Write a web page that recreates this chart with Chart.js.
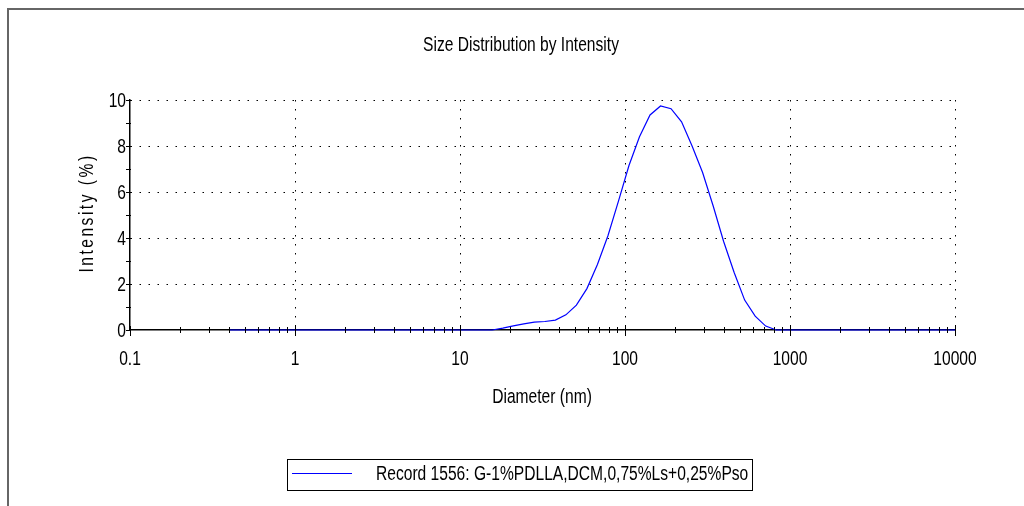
<!DOCTYPE html>
<html>
<head>
<meta charset="utf-8">
<title>Size Distribution by Intensity</title>
<script src="https://cdn.jsdelivr.net/npm/chart.js@4.4.1/dist/chart.umd.min.js"></script>
<style>
    html, body { margin: 0; padding: 0; background: #fff; }
    #wrap { width: 1024px; height: 506px; }
</style>
</head>
<body>
<div id="wrap"><canvas id="sizeChart" width="1024" height="506"></canvas></div>
<script>
// size classes (nm) and intensity (%)
const SIZES_NM = [
    0.4, 0.4632, 0.5365, 0.6213, 0.7195, 0.8332, 0.9649, 1.117, 1.294, 1.499,
    1.736, 2.01, 2.328, 2.696, 3.122, 3.615, 4.187, 4.849, 5.615, 6.503,
    7.531, 8.721, 10.1, 11.7, 13.54, 15.69, 18.17, 21.04, 24.36, 28.21,
    32.67, 37.84, 43.82, 50.75, 58.77, 68.06, 78.82, 91.28, 105.7, 122.4,
    141.8, 164.2, 190.1, 220.2, 255.0, 295.3, 342.0, 396.1, 458.7, 531.2,
    615.1, 712.4, 825.0, 955.4, 1106, 1281, 1484, 1718, 1990, 2305,
    2669, 3091, 3580, 4145, 4801, 5560, 6439, 7456, 8635, 10000
];
const INTENSITY = [
    0, 0, 0, 0, 0, 0, 0, 0, 0, 0,
    0, 0, 0, 0, 0, 0, 0, 0, 0, 0,
    0, 0, 0, 0, 0, 0, 0.08, 0.18, 0.27, 0.34,
    0.37, 0.43, 0.66, 1.08, 1.8, 2.85, 4.1, 5.6, 7.15, 8.4,
    9.35, 9.74, 9.62, 9.05, 8.0, 6.85, 5.4, 3.85, 2.5, 1.3,
    0.6, 0.17, 0, 0, 0, 0, 0, 0, 0, 0,
    0, 0, 0, 0, 0, 0, 0, 0, 0, 0
];
const X_TICKS = [0.1, 1, 10, 100, 1000, 10000];
const Y_TICKS = [0, 2, 4, 6, 8, 10];
const Y_MINOR = [1, 3, 5, 7, 9];
const RECORD_LABEL = 'Record 1556: G-1%PDLLA,DCM,0,75%Ls+0,25%Pso';
const CHART_TITLE = 'Size Distribution by Intensity';
const X_TITLE = 'Diameter (nm)';
const Y_TITLE = 'Intensity (%)';

const LINE_COLOR = '#0000ff';
const FONT = '15.6px "Liberation Sans", Arial, sans-serif';
const STRETCH = 1.3; // the original text is drawn taller than it is wide

// text with the tall look of the original
function tallText(ctx, text, x, y, align, rotate) {
    ctx.save();
    ctx.translate(x, y);
    if (rotate) ctx.rotate(-Math.PI / 2);
    ctx.scale(1, STRETCH);
    ctx.font = FONT;
    ctx.fillStyle = '#000';
    ctx.textAlign = align;
    ctx.textBaseline = 'middle';
    if (rotate) ctx.letterSpacing = '2.5px';
    ctx.fillText(text, 0, 0);
    ctx.restore();
}

// frame, tick labels, titles, legend box and the small axis ticks
const decorPlugin = {
    id: 'decor',
    beforeDraw(chart) {
        const ctx = chart.ctx;
        ctx.save();
        ctx.strokeStyle = '#666';
        ctx.lineWidth = 2;
        ctx.beginPath();
        ctx.moveTo(8, 506);
        ctx.lineTo(8, 9);
        ctx.lineTo(1024, 9);
        ctx.stroke();
        ctx.restore();
    },
    afterDraw(chart) {
        const ctx = chart.ctx;
        const xs = chart.scales.x;
        const ys = chart.scales.y;
        const area = chart.chartArea;

        ctx.save();
        ctx.strokeStyle = '#000';
        ctx.lineWidth = 1;

        // y ticks (every unit)
        Y_TICKS.concat(Y_MINOR).forEach(v => {
            const py = Math.round(ys.getPixelForValue(v)) + 0.5;
            ctx.beginPath();
            ctx.moveTo(area.left - 4, py);
            ctx.lineTo(area.left + 1, py);
            ctx.stroke();
        });

        // x ticks: decades long, 2..9 short
        for (let d = -1; d < 4; d++) {
            for (let m = 1; m <= 9; m++) {
                const v = m * Math.pow(10, d);
                const px = Math.round(xs.getPixelForValue(v)) + 0.5;
                const major = m === 1;
                ctx.beginPath();
                ctx.moveTo(px, area.bottom - (major ? 4 : 3));
                ctx.lineTo(px, area.bottom + (major ? 6 : 3));
                ctx.stroke();
            }
        }
        const pEnd = Math.round(xs.getPixelForValue(10000)) + 0.5;
        ctx.beginPath();
        ctx.moveTo(pEnd, area.bottom - 4);
        ctx.lineTo(pEnd, area.bottom + 6);
        ctx.stroke();
        ctx.restore();

        // tick labels
        X_TICKS.forEach(v => tallText(ctx, String(v), xs.getPixelForValue(v), 359, 'center'));
        Y_TICKS.forEach(v => tallText(ctx, String(v), 126, ys.getPixelForValue(v) + 1, 'right'));

        // titles
        tallText(ctx, CHART_TITLE, 521, 45, 'center');
        tallText(ctx, X_TITLE, 542, 397, 'center');
        tallText(ctx, Y_TITLE, 87, 213, 'center', true);

        // legend
        const ds = chart.data.datasets[0];
        ctx.save();
        ctx.strokeStyle = '#000';
        ctx.lineWidth = 1;
        ctx.strokeRect(287.5, 459.5, 465, 31);
        ctx.strokeStyle = LINE_COLOR;
        ctx.lineWidth = 1;
        ctx.beginPath();
        ctx.moveTo(292, 473.5);
        ctx.lineTo(352, 473.5);
        ctx.stroke();
        ctx.restore();
        tallText(ctx, ds.label, 376, 474, 'left');
    }
};

const ctx = document.getElementById('sizeChart');
new Chart(ctx, {
    type: 'line',
    data: {
        datasets: [{
            label: RECORD_LABEL,
            data: SIZES_NM.map((s, i) => ({ x: s, y: INTENSITY[i] })),
            borderColor: LINE_COLOR,
            borderWidth: 1.2,
            pointRadius: 0,
            tension: 0,
            fill: false,
            clip: false
        }]
    },
    options: {
        responsive: false,
        animation: false,
        layout: { padding: { top: 100, right: 69, bottom: 0, left: 0 } },
        plugins: {
            legend: { display: false },
            title: { display: false },
            tooltip: { enabled: false }
        },
        scales: {
            x: {
                type: 'logarithmic',
                min: 0.1,
                max: 10000,
                afterBuildTicks: s => { s.ticks = X_TICKS.map(v => ({ value: v })); },
                afterFit: s => { s.height = 176; },
                ticks: { display: false },
                grid: {
                    drawTicks: false,
                    lineWidth: 1,
                    color: c => (c.tick && c.tick.value === 0.1) ? 'rgba(0,0,0,0)' : '#000'
                },
                border: { display: true, color: '#000', width: 1.5, dash: [1.5, 7.5] }
            },
            y: {
                min: 0,
                max: 10,
                afterBuildTicks: s => { s.ticks = Y_TICKS.map(v => ({ value: v })); },
                afterFit: s => { s.width = 130; },
                ticks: { display: false },
                grid: {
                    drawTicks: false,
                    lineWidth: 1,
                    color: c => (c.tick && c.tick.value === 0) ? 'rgba(0,0,0,0)' : '#000'
                },
                border: { display: true, color: '#000', width: 1.5, dash: [1.5, 7.5] }
            }
        }
    },
    plugins: [decorPlugin]
});
</script>
</body>
</html>
